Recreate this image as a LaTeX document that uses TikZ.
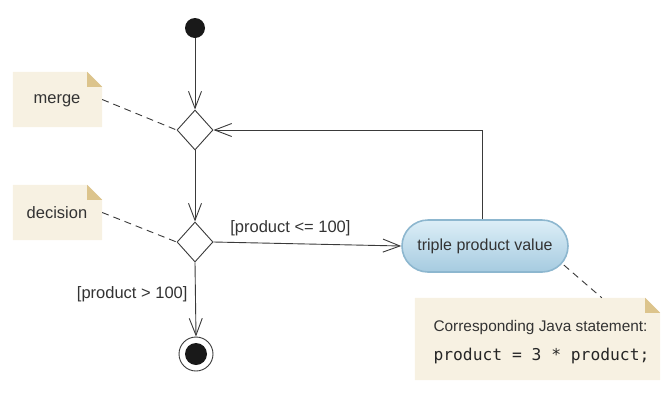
\documentclass[tikz,border=0pt]{standalone}
\usepackage{fontspec}
\setmainfont{Liberation Sans}
\newfontfamily\codefont{DejaVu Sans Mono}
\usetikzlibrary{arrows.meta,calc,shapes.geometric}
\definecolor{notebg}{HTML}{F7F1E2}
\definecolor{notefold}{HTML}{DCC48C}
\definecolor{linec}{HTML}{3A3A3A}
\definecolor{pilltop}{HTML}{DCEEF7}
\definecolor{pillbot}{HTML}{A6CBE0}
\definecolor{pillrim}{HTML}{8DB7CF}
\tikzset{
  flow/.style={draw=linec, line width=0.9pt, -{Straight Barb[length=17pt,width=13pt,line width=0.9pt]}},
  notelink/.style={draw=linec, line width=0.9pt, dash pattern=on 7pt off 5pt},
  diam/.style={draw=linec, line width=0.9pt, fill=white, shape=diamond, minimum width=36pt, minimum height=40pt, inner sep=0pt},
  notebox/.style={minimum width=#1, inner sep=0pt},
  lbl/.style={font=\fontsize{16.5}{18}\selectfont, text=black!80},
}
\newcommand{\notefill}[1]{%
  \fill[notebg] (#1.north west) -- ([xshift=-15pt]#1.north east) -- ([yshift=-15pt]#1.north east) -- (#1.south east) -- (#1.south west) -- cycle;
  \fill[notefold] ([xshift=-15pt]#1.north east) -- ([xshift=-15pt,yshift=-15pt]#1.north east) -- ([yshift=-15pt]#1.north east) -- cycle;}
\begin{document}
\begin{tikzpicture}[x=1pt,y=-1pt]
\useasboundingbox (0,0) rectangle (672,405);
% notes
\node[notebox=89pt, minimum height=55pt] (mnote) at (57.5,99.5) {};
\node[notebox=89pt, minimum height=55pt] (dnote) at (57.5,212.5) {};
\node[notebox=245pt, minimum height=82pt] (jnote) at (537.5,339) {};
\notefill{mnote}
\notefill{dnote}
\notefill{jnote}
\node[lbl] (mtext) at (57,101) {merge};
\node[lbl] (dtext) at (57,213) {decision};
\node[anchor=west, font=\fontsize{15.4}{17}\selectfont, text=black!80] (jtext1) at (430,328) {Corresponding Java statement:};
\node[anchor=west, font=\codefont\fontsize{16.3}{18}\selectfont, text=black!85] (jtext2) at (430,356) {product = 3 * product;};
% activity nodes
\node[circle, fill=black!90, minimum size=20pt, inner sep=0pt] (start) at (195,28) {};
\node[diam] (merge) at (195,130) {};
\node[diam] (dec) at (195,242) {};
\node[circle, draw=linec, line width=0.9pt, minimum size=34pt, inner sep=0pt, fill=white] (final) at (196,354) {};
\node[circle, fill=black!90, minimum size=22pt, inner sep=0pt] (finaldot) at (196,354) {};
\node[rounded corners=26pt, minimum width=166pt, minimum height=52pt, draw=pillrim, line width=1.6pt, top color=pilltop, bottom color=pillbot, font=\fontsize{16}{18}\selectfont, text=black!80] (pill) at (485,246) {triple product value};
% connectors
\draw[flow] (start) -- (merge.north);
\draw[flow] (merge.south) -- (dec.north);
\draw[flow] (dec.south) -- (final.north);
\draw[flow] (dec.east) -- node[lbl, above=4pt, pos=0.41] {[product <= 100]} (pill.west);
\draw[flow] ([xshift=-3pt]pill.north) |- (merge.east);
\node[lbl, anchor=east] (gt) at (191,294) {[product > 100]};
% note links
\draw[notelink] (mnote.east) -- (merge.west);
\draw[notelink] (dnote.east) -- (dec.west);
\coordinate (pillc) at ($(pill.east)+(-5,19)$);
\coordinate (jc) at ($(jnote.north west)+(187,0)$);
\draw[notelink] (pillc) -- (jc);
\end{tikzpicture}
\end{document}
